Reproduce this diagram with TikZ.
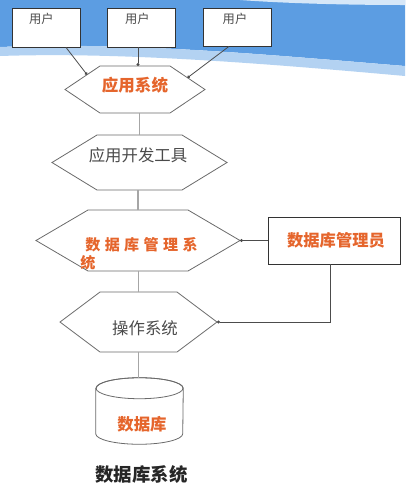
\documentclass[tikz,border=0pt]{standalone}
\usepackage{fontspec}
\newfontfamily\cjk{Noto Sans CJK SC}
\usetikzlibrary{arrows.meta,calc}
\definecolor{bgblue}{HTML}{5C9DE2}
\definecolor{bglight}{HTML}{B3D2F2}
\definecolor{bgtop}{HTML}{D6E7F8}
\definecolor{orng}{HTML}{E5652C}
\definecolor{edgec}{HTML}{6A6A6A}
\definecolor{txtc}{HTML}{4A4A4A}
\newcommand\pxu{0.75pt}
\newcommand\hexdraw[2]{\path[hexline] (#1.west) -- ([xshift=#2*\pxu]#1.north west) -- ([xshift=-#2*\pxu]#1.north east) -- (#1.east) -- ([xshift=-#2*\pxu]#1.south east) -- ([xshift=#2*\pxu]#1.south west) -- cycle;}
\begin{document}
\begin{tikzpicture}[x=0.75pt,y=-0.75pt,
  ubox/.style={draw=black!80, fill=white, line width=0.6pt, inner sep=0, minimum width=68*\pxu, minimum height=39*\pxu},
  hexn/.style={inner sep=0, outer sep=0},
  hexline/.style={draw=edgec, line width=0.6pt},
  conn/.style={draw=black!70, line width=0.6pt, -{Circle[length=2.2pt]}},
  vline/.style={draw=black!35, line width=0.8pt},
  utxt/.style={font=\cjk\fontsize{9.2pt}{10pt}\selectfont, text=txtc, inner sep=0},
  otxt/.style={font=\cjk\bfseries\fontsize{12pt}{13pt}\selectfont, text=orng, inner sep=0},
  gtxt/.style={font=\cjk\fontsize{12.3pt}{13pt}\selectfont, text=txtc, inner sep=0},
]
\useasboundingbox (0,0) rectangle (405,483);
% background wave
\fill[bgblue] (0,0) -- (405,0) -- (405,66) .. controls (260,54) and (130,42) .. (0,47) -- cycle;
\fill[bglight] (0,47) .. controls (130,42) and (260,54) .. (405,66) -- (405,76) .. controls (260,63) and (120,52) .. (0,56) -- cycle;
\fill[bgtop] (240,0) -- (405,0) -- (405,5) .. controls (340,5) and (280,3) .. (240,0) -- cycle;

% user boxes
\node[ubox] (u1) at (46,27.5) {};
\node[ubox] (u2) at (141.5,27.5) {};
\node[ubox, minimum height=38*\pxu] (u3) at (237.5,27) {};
\node[utxt] (u1t) at (41.5,19) {用户};
\node[utxt] (u2t) at (137.5,19) {用户};
\node[utxt] (u3t) at (235,19) {用户};

% hexagons
\node[hexn, minimum width=140*\pxu, minimum height=47*\pxu] (h1) at (135,89.5) {};
\node[hexn, minimum width=175*\pxu, minimum height=55*\pxu] (h2) at (139.5,162.5) {};
\node[hexn, minimum width=204*\pxu, minimum height=61*\pxu] (h3) at (138,240.5) {};
\node[hexn, minimum width=157*\pxu, minimum height=60*\pxu] (h4) at (138.5,322) {};
\hexdraw{h1}{35}
\hexdraw{h2}{45}
\hexdraw{h3}{52}
\hexdraw{h4}{40}

\node[otxt, font=\cjk\bfseries\fontsize{12.4pt}{13pt}\selectfont] (t1) at (135,85) {应用系统};
\node[gtxt] (t2) at (138,155) {应用开发工具};
\node[otxt, font=\cjk\bfseries\fontsize{11.3pt}{13pt}\selectfont] (t3) at (141.5,245) {数\hspace{3.3pt}据\hspace{3.3pt}库\hspace{3.3pt}管\hspace{3.3pt}理\hspace{3.3pt}系};
\node[otxt, font=\cjk\bfseries\fontsize{11.3pt}{13pt}\selectfont] (t3b) at (88,263) {统};
\node[gtxt] (t4) at (145,328) {操作系统};

% admin box
\node[draw=black!80, line width=0.6pt, inner sep=0, minimum width=132*\pxu, minimum height=47*\pxu] (adm) at (334,240.5) {};
\node[otxt, font=\cjk\bfseries\fontsize{12.2pt}{13pt}\selectfont] (admt) at (336,240) {数据库管理员};

% database cylinder
\node[inner sep=0, minimum width=87*\pxu, minimum height=66*\pxu] (db) at (139.5,411) {};
\path[hexline] ([yshift=-10.5*\pxu]db.north west) -- ([yshift=10.5*\pxu]db.south west)
  arc[start angle=180, end angle=360, x radius=43.5*\pxu, y radius=10.5*\pxu]
  -- ([yshift=-10.5*\pxu]db.north east)
  arc[start angle=0, end angle=180, x radius=43.5*\pxu, y radius=10.5*\pxu] -- cycle;
\draw[hexline] ([yshift=-10.5*\pxu]db.north) ellipse [x radius=43.5*\pxu, y radius=10.5*\pxu];
\node[otxt, font=\cjk\bfseries\fontsize{12.3pt}{13pt}\selectfont] (dbt) at (142,424) {数据库};

% caption
\node[inner sep=0, font=\cjk\bfseries\fontsize{13.8pt}{15pt}\selectfont, text=black!85] (cap) at (141.5,474) {数据库系统};

% connectors
\coordinate (u1b) at ([xshift=20*\pxu]u1.south);
\coordinate (u2b) at ([xshift=-3.5*\pxu]u2.south);
\coordinate (u3b) at ([xshift=-8.5*\pxu]u3.south);
\draw[conn] (u1b) -- ($(h1.west)!0.63!([xshift=35*\pxu]h1.north west)$);
\draw[conn] (u2b) -- (u2b |- h1.north);
\draw[conn] (u3b) -- ($([xshift=-35*\pxu]h1.north east)!0.5!(h1.east)$);
\draw[vline] (h2.north) -- (h2.north |- h1.south);
\draw[vline] (h3.north) -- (h3.north |- h2.south);
\draw[vline] (h4.north) -- (h4.north |- h3.south);
\draw[vline] (h4.south) -- (h4.south |- db.north);
\draw[conn] (adm.west) -- (h3.east);
\draw[conn] ([xshift=-4*\pxu]adm.south) |- (h4.east);
\end{tikzpicture}
\end{document}
